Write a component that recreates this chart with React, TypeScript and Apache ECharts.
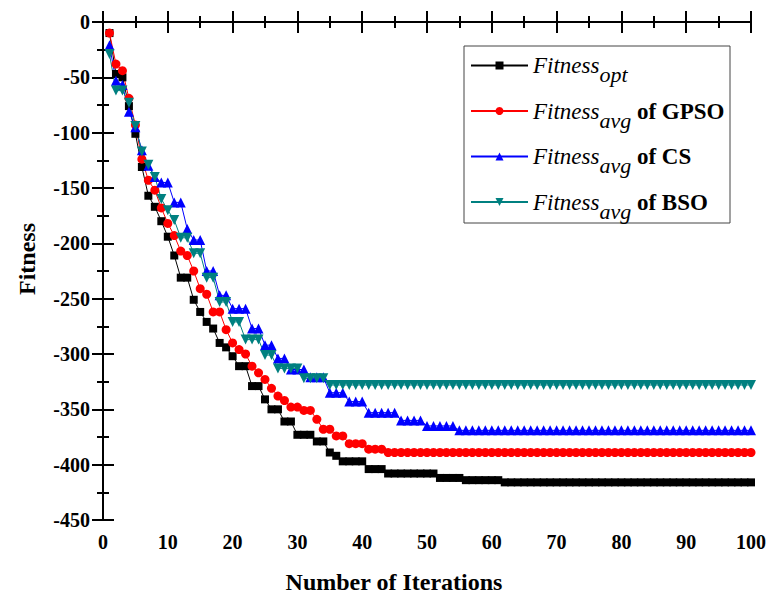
import React, { useEffect, useRef } from "react";
import * as echarts from "echarts";

const iterations: number[] = Array.from({ length: 100 }, (_, i) => i + 1);

const fitnessOpt: number[] = [
  -10, -47, -50, -76, -101, -131, -157, -167, -180, -194,
  -211, -231, -231, -251, -262, -271, -277, -290, -294, -302,
  -311, -311, -329, -329, -341, -350, -350, -361, -361, -373,
  -373, -373, -379, -379, -389, -392, -397, -397, -397, -397,
  -404, -404, -404, -408, -408, -408, -408, -408, -408, -408,
  -408, -412, -412, -412, -412, -414, -414, -414, -414, -414,
  -414, -416, -416, -416, -416, -416, -416, -416, -416, -416,
  -416, -416, -416, -416, -416, -416, -416, -416, -416, -416,
  -416, -416, -416, -416, -416, -416, -416, -416, -416, -416,
  -416, -416, -416, -416, -416, -416, -416, -416, -416, -416,
];

const fitnessGPSO: number[] = [
  -10, -38, -44, -69, -93, -124, -143, -152, -168, -182,
  -193, -207, -211, -225, -241, -246, -262, -262, -278, -290,
  -296, -300, -311, -317, -323, -331, -338, -342, -348, -348,
  -351, -351, -359, -368, -368, -374, -374, -381, -381, -381,
  -386, -386, -386, -389, -389, -389, -389, -389, -389, -389,
  -389, -389, -389, -389, -389, -389, -389, -389, -389, -389,
  -389, -389, -389, -389, -389, -389, -389, -389, -389, -389,
  -389, -389, -389, -389, -389, -389, -389, -389, -389, -389,
  -389, -389, -389, -389, -389, -389, -389, -389, -389, -389,
  -389, -389, -389, -389, -389, -389, -389, -389, -389, -389,
];

const fitnessCS: number[] = [
  -21, -53, -57, -81, -95, -116, -130, -140, -145, -145,
  -163, -163, -187, -197, -197, -225, -225, -247, -247, -259,
  -259, -259, -277, -277, -292, -292, -304, -304, -314, -314,
  -314, -321, -321, -321, -335, -335, -335, -343, -343, -343,
  -353, -353, -353, -353, -353, -360, -360, -360, -360, -365,
  -365, -365, -365, -365, -369, -369, -369, -369, -369, -369,
  -369, -369, -369, -369, -369, -369, -369, -369, -369, -369,
  -369, -369, -369, -369, -369, -369, -369, -369, -369, -369,
  -369, -369, -369, -369, -369, -369, -369, -369, -369, -369,
  -369, -369, -369, -369, -369, -369, -369, -369, -369, -369,
];

const fitnessBSO: number[] = [
  -29, -62, -62, -73, -94, -117, -129, -140, -160, -170,
  -179, -195, -195, -209, -209, -231, -231, -253, -253, -271,
  -271, -287, -287, -287, -301, -301, -313, -313, -313, -313,
  -322, -322, -322, -322, -328, -328, -328, -328, -328, -328,
  -328, -328, -328, -328, -328, -328, -328, -328, -328, -328,
  -328, -328, -328, -328, -328, -328, -328, -328, -328, -328,
  -328, -328, -328, -328, -328, -328, -328, -328, -328, -328,
  -328, -328, -328, -328, -328, -328, -328, -328, -328, -328,
  -328, -328, -328, -328, -328, -328, -328, -328, -328, -328,
  -328, -328, -328, -328, -328, -328, -328, -328, -328, -328,
];

const seriesNames = ["opt", "GPSO", "CS", "BSO"];
const seriesColors = ["#000000", "#ff0000", "#0000ff", "#008080"];
const seriesSymbols = ["rect", "circle", "triangle", "path://M0,0 L10,0 L5,10 Z"];
const seriesSizes = [8, 9, 10, 10];
const seriesValues = [fitnessOpt, fitnessGPSO, fitnessCS, fitnessBSO];

const FONT = "Liberation Serif";

function App() {
  const ref = useRef<HTMLDivElement>(null);

  useEffect(() => {
    if (!ref.current) return;
    const chart = echarts.init(ref.current, null, { renderer: "svg" });

    const axisCommon = {
      axisLine: { show: true, lineStyle: { color: "#000", width: 2 } },
      axisTick: { show: true, inside: true, length: 11, lineStyle: { color: "#000", width: 2 } },
      minorTick: { show: true, splitNumber: 2, length: 6, lineStyle: { color: "#000", width: 2 } },
      splitLine: { show: false },
      minorSplitLine: { show: false },
    };

    const labelStyle = {
      fontFamily: FONT,
      fontWeight: "bold" as const,
      fontSize: 20,
      color: "#000",
    };

    const option: any = {
      animation: false,
      backgroundColor: "#ffffff",
      textStyle: { fontFamily: FONT },
      grid: { left: 103, right: 17, top: 22, bottom: 74, containLabel: false },
      xAxis: [
        {
          type: "value",
          min: 0,
          max: 100,
          interval: 10,
          position: "bottom",
          ...axisCommon,
          axisLabel: { ...labelStyle, margin: 12 },
        },
        {
          type: "value",
          min: 0,
          max: 100,
          interval: 10,
          position: "top",
          ...axisCommon,
          axisLabel: { show: false },
        },
      ],
      yAxis: [
        {
          type: "value",
          min: -450,
          max: 0,
          interval: 50,
          position: "left",
          ...axisCommon,
          axisLabel: { ...labelStyle, margin: 13 },
        },
        {
          type: "value",
          min: -450,
          max: 0,
          interval: 50,
          position: "right",
          ...axisCommon,
          axisLabel: { show: false },
        },
      ],
      legend: {
        show: true,
        orient: "vertical",
        left: 470,
        top: 54,
        padding: 0,
        itemGap: 14,
        itemWidth: 57,
        itemHeight: 10,
        data: seriesNames,
        formatter: (name: string) =>
          name === "opt" ? "{it|Fitness}{sub|opt}" : "{it|Fitness}{sub|avg}{b| of " + name + "}",
        textStyle: {
          color: "#000",
          fontFamily: FONT,
          rich: {
            it: { fontFamily: FONT, fontStyle: "italic", fontSize: 23, lineHeight: 40, color: "#000" },
            sub: {
              fontFamily: FONT,
              fontStyle: "italic",
              fontSize: 22,
              lineHeight: 22,
              verticalAlign: "bottom",
              color: "#000",
            },
            b: { fontFamily: FONT, fontWeight: "bold", fontSize: 23, lineHeight: 40, color: "#000" },
          },
        },
      },
      graphic: [
        {
          type: "rect",
          shape: { x: 464, y: 46, width: 266, height: 177 },
          style: { fill: "none", stroke: "#444", lineWidth: 1 },
          z: 0,
        },
        {
          type: "text",
          x: 27,
          y: 259,
          rotation: Math.PI / 2,
          style: {
            text: "Fitness",
            fontFamily: FONT,
            fontWeight: "bold",
            fontSize: 24,
            fill: "#000",
            align: "center",
            verticalAlign: "middle",
          },
        },
        {
          type: "text",
          x: 394,
          y: 582,
          style: {
            text: "Number of Iterations",
            fontFamily: FONT,
            fontWeight: "bold",
            fontSize: 24,
            fill: "#000",
            align: "center",
            verticalAlign: "middle",
          },
        },
      ],
      series: seriesNames.map((name, k) => ({
        name,
        type: "line",
        xAxisIndex: 0,
        yAxisIndex: 0,
        data: iterations.map((it, i) => [it, seriesValues[k][i]]),
        symbol: seriesSymbols[k],
        symbolSize: seriesSizes[k],
        showAllSymbol: true,
        itemStyle: { color: seriesColors[k] },
        lineStyle: { color: seriesColors[k], width: 1 },
        emphasis: { disabled: true },
      })),
    };

    chart.setOption(option);
    return () => chart.dispose();
  }, []);

  return (
    <div
      ref={ref}
      style={{ position: "fixed", left: 0, top: 0, width: 769, height: 594, background: "#fff" }}
    />
  );
}

export default App;
